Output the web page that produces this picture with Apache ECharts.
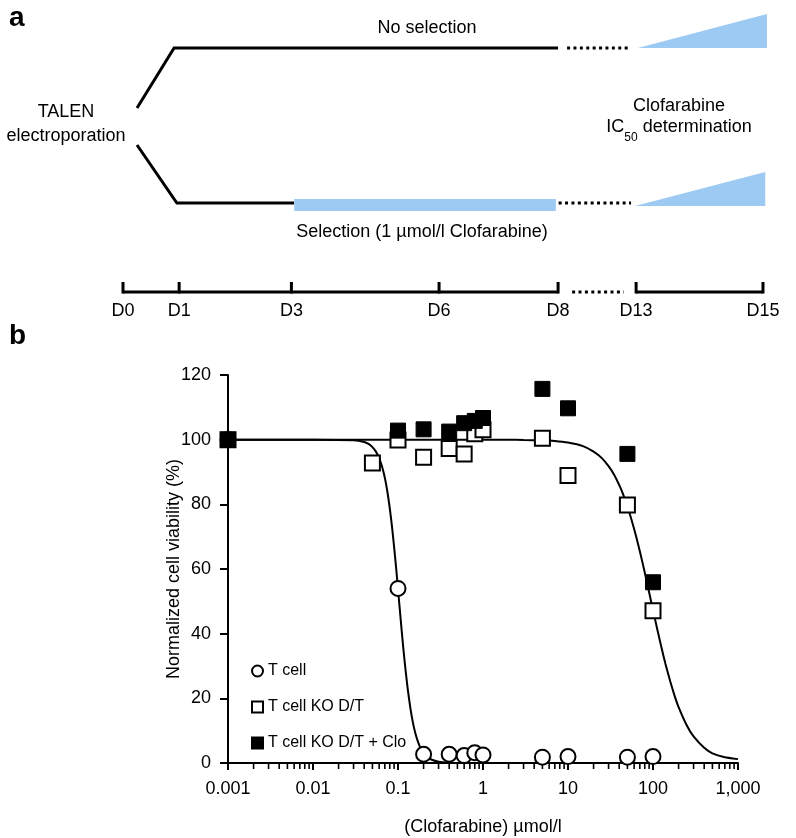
<!DOCTYPE html>
<html><head><meta charset="utf-8">
<script src="https://cdn.jsdelivr.net/npm/echarts@6/dist/echarts.min.js"></script>
<style>html,body{margin:0;padding:0;background:#fff}#c{width:796px;height:838px}</style>
</head><body><div id="c"></div>
<script>
// ---------- Panel b data ----------
const seriesNames = ['T cell', 'T cell KO D/T', 'T cell KO D/T + Clo'];
const concT   = [0.001, 0.1, 0.2, 0.4, 0.6, 0.8, 1, 5, 10, 50, 100];
const viabT   = [100, 54, 2.7, 2.7, 2.3, 3.2, 2.5, 1.8, 2.0, 1.8, 2.0];
const concKO  = [0.001, 0.05, 0.1, 0.2, 0.4, 0.6, 0.8, 1, 5, 10, 50, 100];
const viabKO  = [100, 92.8, 99.9, 94.6, 97.3, 95.6, 101.8, 103.1, 100.4, 88.9, 79.8, 47.1];
const concClo = [0.001, 0.1, 0.2, 0.4, 0.6, 0.8, 1, 5, 10, 50, 100];
const viabClo = [100, 102.8, 103.2, 102.5, 105.1, 105.8, 106.7, 115.7, 109.7, 95.6, 55.9];
// fitted curves
const fitTConc  = [0.001, 0.01, 0.03, 0.04, 0.045, 0.05, 0.055, 0.06, 0.065, 0.07, 0.075, 0.08, 0.085, 0.09, 0.095, 0.1, 0.105, 0.11, 0.115, 0.12, 0.13, 0.14, 0.15, 0.16, 0.17, 0.18, 0.2, 0.22, 0.25, 0.3, 0.4, 0.6, 1, 1000];
const fitTViab  = [100, 100, 99.8, 99.3, 98.7, 97.7, 96.3, 94.3, 91.6, 88.2, 83.9, 78.8, 73.1, 66.8, 60.4, 53.8, 47.5, 41.5, 36.0, 31.1, 23.0, 16.9, 12.4, 9.2, 6.9, 5.2, 3.1, 1.9, 1.0, 0.4, 0.1, 0, 0, 0];
const fitKOConc = [0.001, 1, 2, 3, 5, 7, 10, 15, 20, 25, 30, 35, 40, 45, 50, 60, 70, 80, 90, 100, 110, 125, 140, 160, 180, 200, 250, 300, 400, 500, 700, 1000];
const fitKOViab = [100, 100, 99.97, 99.9, 99.8, 99.6, 99.1, 98.0, 96.3, 94.3, 91.8, 89.1, 86.0, 82.8, 79.4, 72.4, 65.5, 58.9, 52.8, 47.3, 42.4, 36.0, 30.7, 25.1, 20.7, 17.3, 11.6, 8.2, 4.7, 3.0, 1.8, 1.2];
const xTickLabels = ['0.001', '0.01', '0.1', '1', '10', '100', '1,000'];
const xMinorTicks = [];
[0.001, 0.01, 0.1, 1, 10, 100].forEach(d => { for (let k = 2; k <= 9; k++) xMinorTicks.push(+(d * k).toPrecision(3)); });

// ---------- Panel a (schematic) ----------
const dayLabels = ['D0', 'D1', 'D3', 'D6', 'D8', 'D13', 'D15'];
const dayPos    = [0, 1, 3, 5.63, 7.75, 9.14, 11.4];
const upperBranch = [[0.25, 108], [0.91, 48], [7.75, 48]];
const upperDots   = [[7.91, 48], [9.05, 48]];
const lowerBranch = [[0.25, 145], [0.96, 203], [3.05, 203]];
const selectionBar = [[3.05, 205], [7.71, 205]];
const lowerDots   = [[7.76, 203], [9.05, 203]];
const wedges      = [[9.17, 48, 11.47, 14], [9.12, 206, 11.44, 172]];
const timeline    = [[0, 292], [7.75, 292], ['-', '-'], [9.14, 292], [11.4, 292]];
const timelineDots = [[8.0, 292], [8.92, 292]];
const timelineRow = 292, tickTopRow = 282, labelRow = 311;

const BLUE = '#9ccaf3';
const FONT = '"Liberation Sans", Arial, Helvetica, sans-serif';

const chart = echarts.init(document.getElementById('c'), null, {renderer: 'canvas'});

const blackLine = (data, extra) => Object.assign({
  type: 'line', xAxisIndex: 0, yAxisIndex: 0, data: data, symbol: 'none', silent: true,
  lineStyle: {color: '#000', width: 3, cap: 'butt', join: 'miter'}, z: 3, animation: false
}, extra || {});

const option = {
  animation: false,
  backgroundColor: '#fff',
  textStyle: {fontFamily: FONT},
  grid: [
    {left: 123, top: 0, width: 645.6, height: 330},
    {left: 228, top: 375, width: 510, height: 388}
  ],
  xAxis: [
    {gridIndex: 0, type: 'value', min: 0, max: 11.5, show: false},
    {gridIndex: 1, type: 'log', logBase: 10, min: 0.001, max: 1000, splitNumber: 6,
     axisLine: {show: true, onZero: false, lineStyle: {color: '#000', width: 2}},
     axisTick: {show: true, length: 7, lineStyle: {color: '#000', width: 2}},
     axisLabel: {color: '#000', fontSize: 18, fontFamily: FONT, margin: 17,
       formatter: v => xTickLabels[Math.round(Math.log10(v)) + 3]},
     splitLine: {show: false}, minorTick: {show: false},
     name: '(Clofarabine) \u00b5mol/l', nameLocation: 'middle', nameGap: 55, nameMoveOverlap: false,
     nameTextStyle: {color: '#000', fontSize: 18, fontFamily: FONT}}
  ],
  yAxis: [
    {gridIndex: 0, type: 'value', min: 0, max: 330, inverse: true, show: false},
    {gridIndex: 1, type: 'value', min: 0, max: 120, interval: 20,
     axisLine: {show: true, lineStyle: {color: '#000', width: 2}},
     axisTick: {show: true, length: 8, lineStyle: {color: '#000', width: 2}},
     axisLabel: {color: '#000', fontSize: 18, fontFamily: FONT, margin: 17},
     splitLine: {show: false},
     name: 'Normalized cell viability (%)', nameLocation: 'middle', nameGap: 45, nameMoveOverlap: false,
     nameTextStyle: {color: '#000', fontSize: 18, fontFamily: FONT}}
  ],
  legend: {
    data: seriesNames, orient: 'vertical', left: 246, top: 658, itemGap: 20,
    itemWidth: 11, itemHeight: 11, itemTextGap: 9, selectedMode: false,
    textStyle: {color: '#000', fontSize: 16, fontFamily: FONT}
  },
  graphic: [
    {type: 'text', left: 9, top: 4, style: {text: 'a', font: 'bold 28px ' + FONT, fill: '#000'}},
    {type: 'text', left: 9, top: 322, style: {text: 'b', font: 'bold 28px ' + FONT, fill: '#000'}},
    {type: 'text', x: 427, y: 28, style: {text: 'No selection', font: '18px ' + FONT, fill: '#000', align: 'center', verticalAlign: 'middle'}},
    {type: 'text', x: 66, y: 112, style: {text: 'TALEN', font: '18px ' + FONT, fill: '#000', align: 'center', verticalAlign: 'middle'}},
    {type: 'text', x: 66, y: 136, style: {text: 'electroporation', font: '18px ' + FONT, fill: '#000', align: 'center', verticalAlign: 'middle'}},
    {type: 'text', x: 679, y: 106, style: {text: 'Clofarabine', font: '18px ' + FONT, fill: '#000', align: 'center', verticalAlign: 'middle'}},
    {type: 'text', x: 679, y: 131, style: {
      text: '{a|IC}{s|50}{a| determination}', align: 'center', verticalAlign: 'middle',
      rich: {a: {fontSize: 18, fontFamily: FONT, fill: '#000', lineHeight: 26, verticalAlign: 'top'},
             s: {fontSize: 12, fontFamily: FONT, fill: '#000', lineHeight: 12, verticalAlign: 'bottom'}}}},
    {type: 'text', x: 422, y: 232, style: {text: 'Selection (1 \u00b5mol/l Clofarabine)', font: '18px ' + FONT, fill: '#000', align: 'center', verticalAlign: 'middle'}}
  ],
  series: [
    // ----- panel a -----
    blackLine(upperBranch),
    blackLine(upperDots, {lineStyle: {color: '#000', width: 3, type: [3, 3.4], cap: 'butt'}}),
    blackLine(lowerBranch),
    blackLine(selectionBar, {lineStyle: {color: BLUE, width: 12, cap: 'butt'}, z: 4}),
    blackLine(lowerDots, {lineStyle: {color: '#000', width: 3, type: [3, 3.4], cap: 'butt'}}),
    blackLine(timeline, {connectNulls: false}),
    blackLine(timelineDots, {lineStyle: {color: '#000', width: 3, type: [3, 3.4], cap: 'butt'}}),
    {
      type: 'custom', xAxisIndex: 0, yAxisIndex: 0, silent: true, clip: false,
      data: wedges,
      renderItem: (params, api) => {
        const p0 = api.coord([api.value(0), api.value(1)]);
        const p1 = api.coord([api.value(2), api.value(3)]);
        const p2 = api.coord([api.value(2), api.value(1)]);
        return {type: 'polygon', shape: {points: [p0, p1, p2]}, style: {fill: BLUE}};
      }
    },
    {
      type: 'custom', xAxisIndex: 0, yAxisIndex: 0, silent: true, clip: false,
      data: dayPos.map((d, i) => [d, i]),
      renderItem: (params, api) => {
        const d = api.value(0);
        const b = api.coord([d, timelineRow + 1.5]);
        const t = api.coord([d, tickTopRow]);
        const l = api.coord([d, labelRow]);
        return {type: 'group', children: [
          {type: 'line', shape: {x1: b[0], y1: b[1], x2: t[0], y2: t[1]}, style: {stroke: '#000', lineWidth: 3}},
          {type: 'text', x: l[0], y: l[1], style: {text: dayLabels[params.dataIndex], font: '18px ' + FONT, fill: '#000', align: 'center', verticalAlign: 'middle'}}
        ]};
      }
    },
    // ----- panel b -----
    {type: 'line', name: 'fitT', xAxisIndex: 1, yAxisIndex: 1, data: fitTConc.map((x, i) => [x, fitTViab[i]]),
     symbol: 'none', smooth: 0.2, lineStyle: {color: '#000', width: 2}, silent: true, z: 2},
    {type: 'line', name: 'fitKO', xAxisIndex: 1, yAxisIndex: 1, data: fitKOConc.map((x, i) => [x, fitKOViab[i]]),
     symbol: 'none', smooth: 0.2, lineStyle: {color: '#000', width: 2}, silent: true, z: 2},
    {
      type: 'custom', xAxisIndex: 1, yAxisIndex: 1, silent: true, clip: false,
      data: xMinorTicks.map(v => [v, 0]),
      renderItem: (params, api) => {
        const p = api.coord([api.value(0), 0]);
        return {type: 'line', shape: {x1: p[0], y1: p[1], x2: p[0], y2: p[1] + 6}, style: {stroke: '#000', lineWidth: 1.6}};
      }
    },
    {type: 'scatter', name: seriesNames[0], xAxisIndex: 1, yAxisIndex: 1,
     data: concT.map((x, i) => [x, viabT[i]]), symbol: 'circle', symbolSize: 15,
     itemStyle: {color: '#fff', borderColor: '#000', borderWidth: 2, opacity: 1}, z: 5},
    {type: 'scatter', name: seriesNames[1], xAxisIndex: 1, yAxisIndex: 1,
     data: concKO.map((x, i) => [x, viabKO[i]]), symbol: 'rect', symbolSize: 15,
     itemStyle: {color: '#fff', borderColor: '#000', borderWidth: 2, opacity: 1}, z: 5},
    {type: 'scatter', name: seriesNames[2], xAxisIndex: 1, yAxisIndex: 1,
     data: concClo.map((x, i) => [x, viabClo[i]]), symbol: 'rect', symbolSize: 15,
     itemStyle: {color: '#000', borderColor: '#000', borderWidth: 1, opacity: 1}, z: 6}
  ]
};
chart.setOption(option);
</script>
</body></html>
